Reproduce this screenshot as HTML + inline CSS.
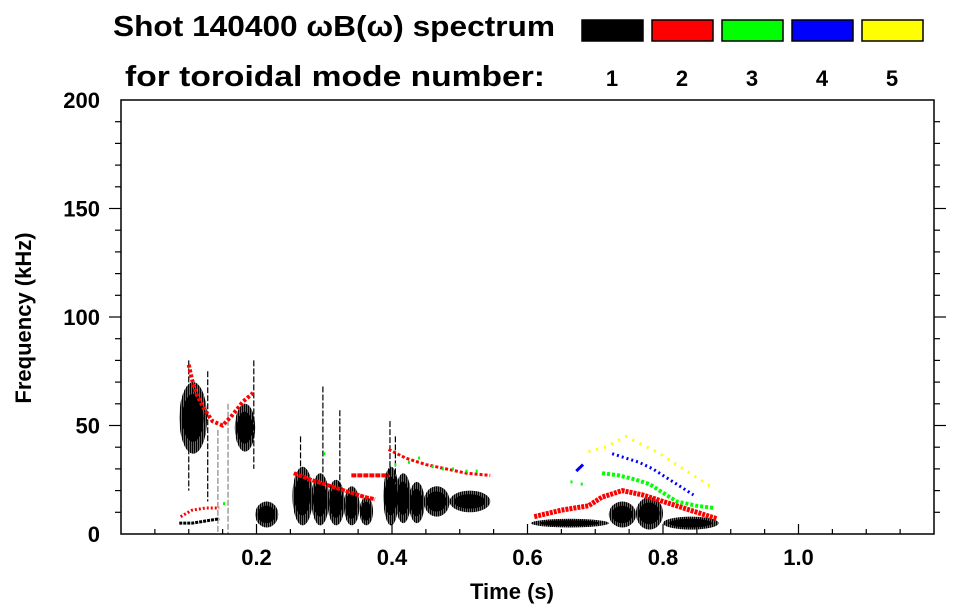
<!DOCTYPE html>
<html><head><meta charset="utf-8">
<style>
html,body{margin:0;padding:0;background:#fff;}
svg{display:block;font-family:"Liberation Sans",sans-serif;}
</style></head>
<body>
<svg id="chart" width="963" height="615" viewBox="0 0 963 615">
<defs>
<pattern id="stripes" width="2" height="4" patternUnits="userSpaceOnUse">
<rect x="0" y="0" width="1.6" height="4" fill="#000"/>
</pattern>
</defs>
<text x="113" y="36" font-size="29" font-weight="bold" textLength="442" lengthAdjust="spacingAndGlyphs">Shot 140400 ωB(ω) spectrum</text>
<text x="125" y="86" font-size="29" font-weight="bold" textLength="420" lengthAdjust="spacingAndGlyphs">for toroidal mode number:</text>
<g id="legend"></g>
<g id="plot"></g>
<g id="axes"></g>
<text x="512" y="599" font-size="22" font-weight="bold" text-anchor="middle">Time (s)</text>
<text transform="translate(31,318) rotate(-90)" font-size="22" font-weight="bold" text-anchor="middle">Frequency (kHz)</text>
</svg>
<script>
// ---- data ----
const modeNumbers = [1, 2, 3, 4, 5];
const modeColors = ['#000000', '#ff0000', '#00ff00', '#0000ff', '#ffff00'];
const xTicks = [0.2, 0.4, 0.6, 0.8, 1.0];
const xTickLabels = ['0.2', '0.4', '0.6', '0.8', '1.0'];
const yTicks = [0, 50, 100, 150, 200];
const yTickLabels = ['0', '50', '100', '150', '200'];
// n=1 bursts (black): start time, end time, low freq, high freq
const blobT0 = [0.086, 0.168, 0.198, 0.253, 0.281, 0.305, 0.329, 0.352, 0.387, 0.405, 0.425, 0.447, 0.485, 0.605, 0.720, 0.760, 0.800];
const blobT1 = [0.127, 0.198, 0.232, 0.283, 0.307, 0.330, 0.352, 0.372, 0.410, 0.428, 0.448, 0.485, 0.545, 0.720, 0.760, 0.800, 0.882];
const blobF0 = [37, 38, 3, 4, 4, 4, 4, 4, 4, 5, 5, 8, 10, 3, 3, 2, 2];
const blobF1 = [70, 60, 15, 31, 28, 25, 22, 17, 31, 28, 24, 22, 20, 7, 15, 17, 8];
// thin low-frequency n=1 band
const lowT = [0.086, 0.105, 0.125, 0.145];
const lowF = [5, 5, 6, 7];
// vertical spikes: time, top freq, bottom freq
const spikeT = [0.100, 0.128, 0.143, 0.158, 0.196, 0.265, 0.298, 0.323, 0.397, 0.405];
const spikeTop = [80, 75, 48, 60, 80, 45, 68, 57, 52, 45];
const spikeBot = [20, 15, 0, 0, 30, 20, 18, 20, 20, 20];
// n=2 tracks (red): time, freq
const red1T = [0.100, 0.105, 0.112, 0.122, 0.135, 0.150, 0.165, 0.180, 0.195];
const red1F = [78, 71, 64, 58, 52, 50, 55, 61, 65];
const red2T = [0.255, 0.280, 0.300, 0.320, 0.340, 0.360, 0.375];
const red2F = [28, 25, 23, 21, 19, 17, 16];
const red3T = [0.395, 0.420, 0.450, 0.480, 0.510, 0.545];
const red3F = [39, 35, 32, 30, 28, 27];
const red4T = [0.340, 0.370, 0.395];
const red4F = [27, 27, 27];
const red5T = [0.088, 0.105, 0.125, 0.145];
const red5F = [8, 11, 12, 12];
const red6T = [0.610, 0.650, 0.690, 0.710, 0.740, 0.770, 0.800, 0.830, 0.860, 0.880];
const red6F = [8, 11, 13, 17, 20, 18, 15, 12, 9, 7];
// n=3 (green)
const grnT = [0.710, 0.735, 0.760, 0.780, 0.800, 0.820, 0.850, 0.875];
const grnF = [28, 27, 25, 23, 19, 15, 13, 12];
const grnDotT = [0.405, 0.425, 0.440, 0.460, 0.475, 0.490, 0.510, 0.525, 0.665, 0.680, 0.300, 0.152];
const grnDotF = [32, 33, 35, 31, 30, 30, 29, 29, 24, 23, 37, 14];
// n=4 (blue)
const bluT = [0.725, 0.745, 0.765, 0.785, 0.805, 0.825, 0.845];
const bluF = [37, 35, 33, 30, 26, 22, 18];
const bluBlobT = [0.672, 0.682];
const bluBlobF = [29, 32];
// n=5 (yellow)
const yelT = [0.690, 0.715, 0.745, 0.770, 0.790, 0.810, 0.830, 0.850, 0.870];
const yelF = [38, 40, 45, 41, 38, 34, 30, 26, 22];

// ---- scales ----
const X0 = 121, X1 = 934, Y0 = 534, Y1 = 100;
const xs = t => X0 + t / 1.2 * (X1 - X0);
const ys = f => Y0 - f / 200 * (Y0 - Y1);
const NS = 'http://www.w3.org/2000/svg';
function mk(tag, attrs, parent) {
  const e = document.createElementNS(NS, tag);
  for (const k in attrs) e.setAttribute(k, attrs[k]);
  parent.appendChild(e);
  return e;
}
const plot = document.getElementById('plot');
const axes = document.getElementById('axes');
const legend = document.getElementById('legend');

// legend
modeNumbers.forEach((m, i) => {
  const x = 582 + i * 70;
  const r = mk('rect', {x: x, y: 20, width: 61, height: 21, fill: modeColors[i], stroke: '#000', 'stroke-width': 1.5}, legend);
  
  
  const t = mk('text', {x: x + 30, y: 86, 'font-size': 22, 'font-weight': 'bold', 'text-anchor': 'middle'}, legend);
  t.textContent = m;
  
  
});

// blobs
blobT0.forEach((t0, i) => {
  const x0 = xs(t0), x1 = xs(blobT1[i]), yTop = ys(blobF1[i]), yBot = ys(blobF0[i]);
  const cx = (x0 + x1) / 2, cy = (yTop + yBot) / 2;
  const e = mk('ellipse', {cx: cx, cy: cy, rx: (x1 - x0) / 2, ry: (yBot - yTop) / 2, fill: 'url(#stripes)'}, plot);
  
  
  const c = mk('ellipse', {cx: cx, cy: cy, rx: (x1 - x0) / 2.6, ry: (yBot - yTop) / 3, fill: '#000'}, plot);
  
  
});
spikeT.forEach((t, i) => {
  const l = mk('line', {x1: xs(t), x2: xs(t), y1: ys(spikeTop[i]), y2: ys(spikeBot[i]), stroke: i === 2 || i === 3 ? '#888' : '#000', 'stroke-width': 1.2, 'stroke-dasharray': '6 2'}, plot);
  
  
});
function track(T, F, color, w, dash, name) {
  const p = mk('polyline', {points: T.map((t, i) => xs(t) + ',' + ys(F[i])).join(' '), fill: 'none', stroke: color, 'stroke-width': w, 'stroke-dasharray': dash}, plot);
  
  
}
track(lowT, lowF, '#000', 3, '3 1', 'n1-low-band');
track(red1T, red1F, '#f00', 4, '3 2', 'n2-track-early');
track(red2T, red2F, '#f00', 4, '4 1', 'n2-track-mid');
track(red3T, red3F, '#f00', 3, '3 2', 'n2-track-late');
track(red4T, red4F, '#f00', 4, '5 1', 'n2-track-short');
track(red5T, red5F, '#f00', 3, '2 2', 'n2-track-low');
track(red6T, red6F, '#f00', 5, '3 1', 'n2-track-final');
track(grnT, grnF, '#0f0', 4, '3 2', 'n3-track');
track(bluT, bluF, '#00f', 3, '2 3', 'n4-track');
track(yelT, yelF, '#ff0', 3, '2 6', 'n5-track');
track(bluBlobT, bluBlobF, '#00f', 3, '', 'n4-blob');
grnDotT.forEach((t, i) => {
  const r = mk('rect', {x: xs(t) - 1, y: ys(grnDotF[i]) - 1.5, width: 2, height: 3, fill: '#0f0'}, plot);
  
  
});

// axes frame
const frame = mk('rect', {x: X0, y: Y1, width: X1 - X0, height: Y0 - Y1, fill: 'none', stroke: '#000', 'stroke-width': 1.5}, axes);


for (let k = 1; k < 24; k++) {
  const t = k * 0.05, major = k % 4 === 0, len = major ? 10 : 5;
  mk('line', {x1: xs(t), x2: xs(t), y1: Y0, y2: Y0 - len, stroke: '#000', 'stroke-width': 1.2}, axes);
}
for (let k = 1; k < 20; k++) {
  const f = k * 10, major = k % 5 === 0, len = major ? 12 : 6;
  mk('line', {x1: X0, x2: X0 - len, y1: ys(f), y2: ys(f), stroke: '#000', 'stroke-width': 1.2}, axes);
  mk('line', {x1: X1, x2: X1 + len, y1: ys(f), y2: ys(f), stroke: '#000', 'stroke-width': 1.2}, axes);
}
xTicks.forEach((t, i) => {
  const tx = mk('text', {x: xs(t), y: 565, 'font-size': 22, 'font-weight': 'bold', 'text-anchor': 'middle'}, axes);
  tx.textContent = xTickLabels[i];
  
  
});
yTicks.forEach((f, i) => {
  const tx = mk('text', {x: 100, y: ys(f) + 8, 'font-size': 22, 'font-weight': 'bold', 'text-anchor': 'end'}, axes);
  tx.textContent = yTickLabels[i];
  
  
});
</script>
</body></html>
